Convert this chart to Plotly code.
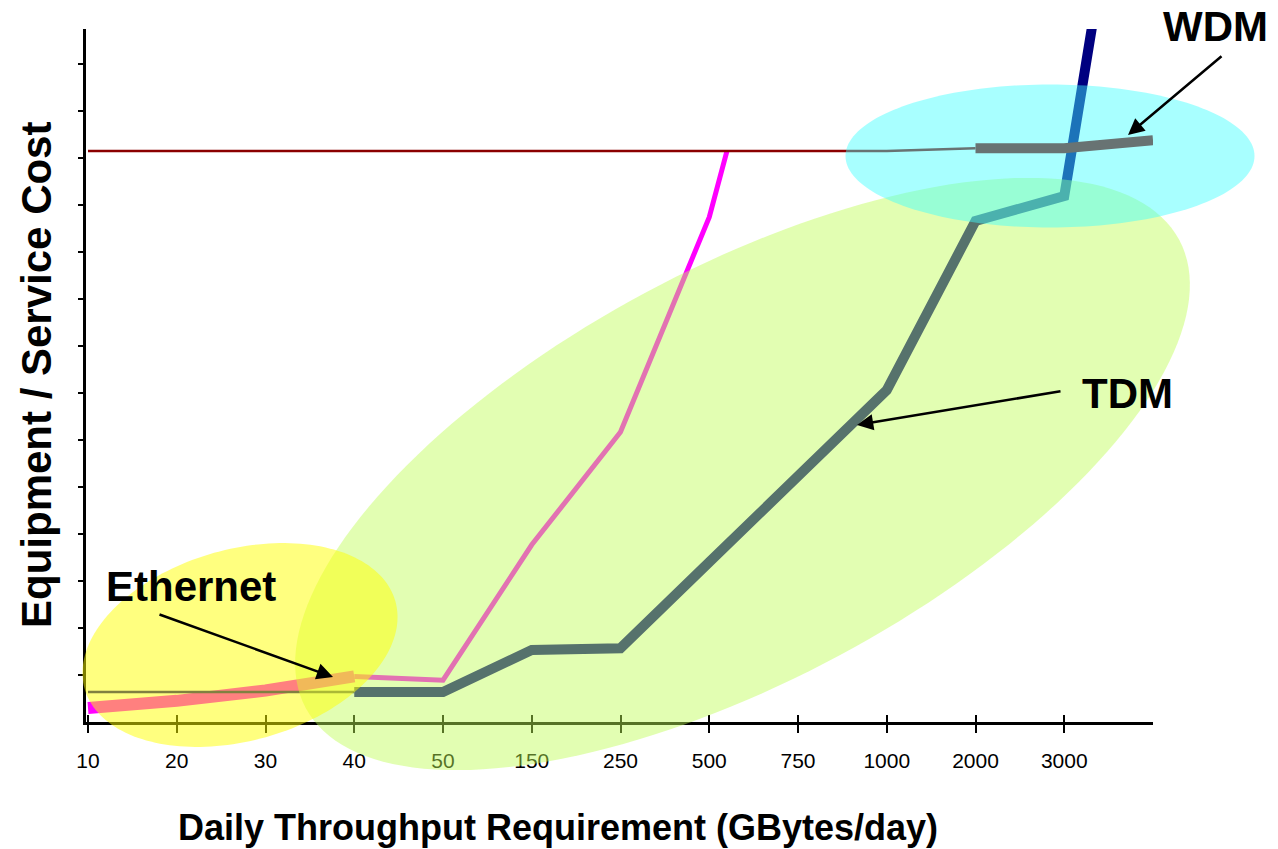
import numpy as np
import plotly.graph_objects as go

# ---- data ---------------------------------------------------------------
categories = ["10", "20", "30", "40", "50", "150", "250", "500", "750",
              "1000", "2000", "3000", ""]

# Ethernet: last point is where the curve meets the WDM ceiling (between 500 and 750)
ethernet_pos = [0, 1, 2, 3, 4, 5, 6, 7, 7.2]
ethernet_cost = [0.30, 0.45, 0.67, 0.97, 0.89, 3.77, 6.17, 10.74, 12.15]

tdm_cost = [0.64, 0.64, 0.64, 0.64, 0.64, 1.53, 1.57, 3.40, 5.21, 7.06,
            10.66, 11.19, 22.7]
wdm_cost = [12.15, 12.15, 12.15, 12.15, 12.15, 12.15, 12.15, 12.15, 12.15,
            12.15, 12.21, 12.21, 12.38]

positions = list(range(len(categories)))

# ---- page geometry ------------------------------------------------------
W, H = 1278, 849
PLOT_L, PLOT_R, PLOT_T, PLOT_B = 86, 1153, 29, 722
X_RANGE = [-0.0225, 12]
Y_RANGE = [0, 14.745]


def px_x(px):
    return (px - PLOT_L) / (PLOT_R - PLOT_L)


def px_y(py):
    return (PLOT_B - py) / (PLOT_B - PLOT_T)


def ellipse_path(cx, cy, a, b, angle_deg, n=180):
    th = np.radians(angle_deg)
    t = np.linspace(0, 2 * np.pi, n, endpoint=False)
    xs = cx + a * np.cos(t) * np.cos(th) - b * np.sin(t) * np.sin(th)
    ys = cy - (a * np.cos(t) * np.sin(th) + b * np.sin(t) * np.cos(th))
    pts = [f"{px_x(x):.5f},{px_y(y):.5f}" for x, y in zip(xs, ys)]
    return "M" + " L".join(pts) + " Z"


def segment(x, y, color, width):
    return go.Scatter(x=x, y=y, mode="lines",
                      line=dict(color=color, width=width),
                      hoverinfo="skip", showlegend=False)


MAGENTA = "#FF00FF"
NAVY = "#000080"
DARKRED = "#8B0000"

fig = go.Figure()

# Ethernet: heavy up to 40, light afterwards
fig.add_trace(segment(ethernet_pos[:4], ethernet_cost[:4], MAGENTA, 12))
fig.add_trace(segment(ethernet_pos[3:], ethernet_cost[3:], MAGENTA, 5))
# TDM: light up to 40, heavy afterwards
fig.add_trace(segment(positions[:4], tdm_cost[:4], NAVY, 2.5))
fig.add_trace(segment(positions[3:], tdm_cost[3:], NAVY, 10))
# WDM: light up to 2000, heavy afterwards
fig.add_trace(segment(positions[:11], wdm_cost[:11], DARKRED, 2.5))
fig.add_trace(segment(positions[10:], wdm_cost[10:], DARKRED, 10))
# empty trace carrying the inward half of the crossing x ticks
fig.add_trace(go.Scatter(x=[], y=[], xaxis="x2", showlegend=False))

# ---- translucent technology regions --------------------------------------
shapes = [
    dict(type="path", path=ellipse_path(742.5, 474, 495.5, 205.7, 28.2),
         xref="paper", yref="paper", layer="above",
         fillcolor="rgba(191,253,84,0.45)", line=dict(width=0)),
    dict(type="path", path=ellipse_path(240, 645, 161.4, 95.7, 15.7),
         xref="paper", yref="paper", layer="above",
         fillcolor="rgba(255,255,0,0.5)", line=dict(width=0)),
    dict(type="path", path=ellipse_path(1050, 156, 204.5, 71.5, 0),
         xref="paper", yref="paper", layer="above",
         fillcolor="rgba(62,255,255,0.45)", line=dict(width=0)),
]

FONT = "Liberation Sans, Arial, sans-serif"

annotations = []
# region labels
for txt, cx, cy in [("Ethernet", 190.5, 586), ("TDM", 1127.5, 393), ("WDM", 1215, 27)]:
    annotations.append(dict(text=f"<b>{txt}</b>", x=px_x(cx), y=px_y(cy),
                            xref="paper", yref="paper", showarrow=False,
                            xanchor="center", yanchor="middle",
                            font=dict(family=FONT, size=42, color="black")))
# pointer arrows (tail -> tip, in pixels)
for (tx, ty), (hx, hy) in [((158, 614), (333, 677)),
                           ((1062, 391), (857, 425)),
                           ((1223, 55), (1128, 135))]:
    annotations.append(dict(text="", x=px_x(hx), y=px_y(hy),
                            xref="paper", yref="paper", showarrow=True,
                            ax=tx - hx, ay=ty - hy, arrowhead=2,
                            arrowsize=1.3, arrowwidth=2.5, arrowcolor="black",
                            standoff=0))
# axis titles
annotations.append(dict(text="<b>Daily Throughput Requirement (GBytes/day)</b>",
                        x=px_x(558), y=px_y(827), xref="paper", yref="paper",
                        showarrow=False, xanchor="center", yanchor="middle",
                        font=dict(family=FONT, size=36, color="black")))
annotations.append(dict(text="<b>Equipment / Service Cost</b>",
                        x=px_x(36), y=px_y(375), xref="paper", yref="paper",
                        showarrow=False, xanchor="center", yanchor="middle",
                        textangle=-90,
                        font=dict(family=FONT, size=42, color="black")))

fig.update_layout(
    width=W, height=H,
    margin=dict(l=PLOT_L, r=W - PLOT_R, t=PLOT_T, b=H - PLOT_B, autoexpand=False),
    paper_bgcolor="white", plot_bgcolor="white", showlegend=False,
    xaxis=dict(range=X_RANGE, tickmode="array", tickvals=positions[:12],
               ticktext=categories[:12], ticks="outside", ticklen=8,
               tickwidth=2, tickcolor="black", showline=True, linewidth=3,
               linecolor="black", showgrid=False, zeroline=False,
               automargin=False, ticklabelstandoff=10,
               tickfont=dict(family=FONT, size=21, color="black")),
    xaxis2=dict(range=X_RANGE, overlaying="x", anchor="y", side="bottom",
                tickmode="array", tickvals=positions[:12], ticks="inside",
                ticklen=7, tickwidth=2, tickcolor="black",
                showticklabels=False, showline=False, showgrid=False,
                zeroline=False),
    yaxis=dict(range=Y_RANGE, tickmode="array", tickvals=list(range(1, 15)),
               ticks="outside", ticklen=5, tickwidth=2, tickcolor="black",
               showticklabels=False, showline=True, linewidth=2.5,
               linecolor="black", showgrid=False, zeroline=False,
               automargin=False),
    shapes=shapes,
    annotations=annotations,
)

fig.write_html("out.html")
